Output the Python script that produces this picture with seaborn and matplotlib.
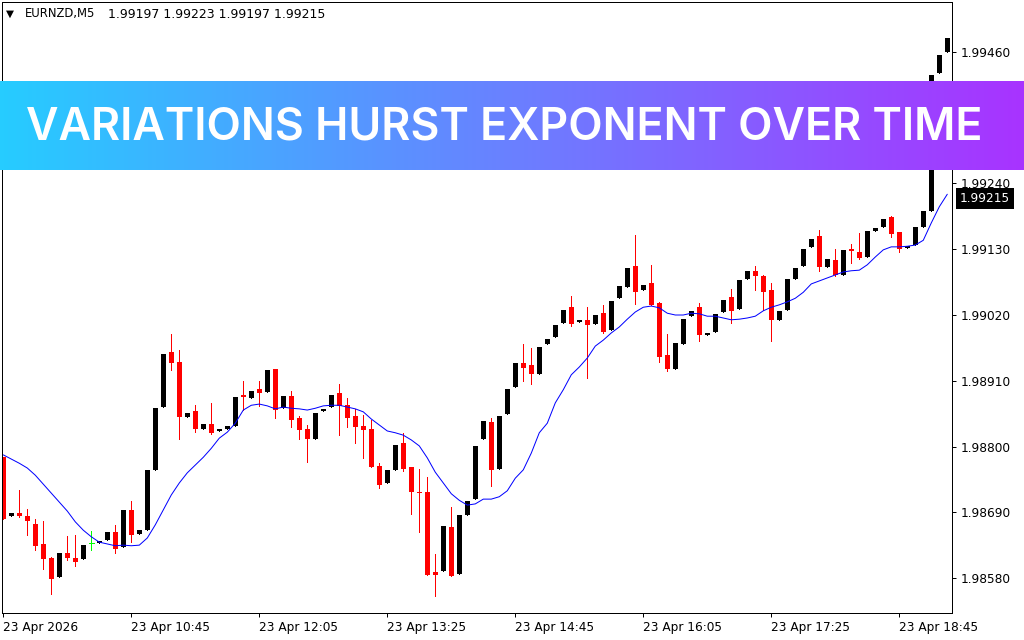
import numpy as np
import pandas as pd
import matplotlib
matplotlib.use("Agg")
import matplotlib.pyplot as plt
from matplotlib.colors import LinearSegmentedColormap
import seaborn as sns

# EURNZD M5 candles, prices in points above 1.98000
opens = [782,684,689,684,670,637,613,582,622,613,612,639,639,644,657,632,694,654,660,761,
         866,958,941,849,859,829,838,826,829,834,886,881,896,891,930,864,885,848,829,813,
         859,866,890,869,851,834,829,767,739,761,806,766,724,724,590,592,665,587,685,712,
         813,841,762,854,899,940,936,921,971,983,1007,1033,1008,1012,1005,1023,995,1048,1067,1102,
         1062,1074,1040,953,930,971,1018,1033,987,992,1025,1050,1030,1080,1094,1085,1062,1012,1028,1080,
         1102,1134,1152,1100,1112,1087,1130,1125,1117,1160,1167,1184,1159,1132,1137,1167,1194,1425,1460]
highs = [782,689,727,695,679,675,615,622,650,652,635,659,642,657,669,694,709,660,761,864,
         955,988,961,856,869,838,873,829,834,883,910,893,910,928,930,885,893,851,836,856,
         863,886,905,881,863,853,844,772,761,802,823,766,762,749,620,667,699,685,709,801,
         843,848,851,896,940,971,965,966,980,1003,1028,1052,1012,1033,1020,1037,1043,1069,1099,1154,
         1070,1104,1042,988,973,1013,1027,1040,990,1022,1045,1064,1079,1094,1102,1087,1074,1027,1080,1099,
         1130,1147,1162,1114,1130,1129,1139,1157,1160,1166,1181,1186,1159,1135,1167,1194,1421,1455,1483]
lows = [679,684,682,652,627,595,553,582,610,600,612,627,639,644,622,632,640,654,660,761,
        866,928,813,849,824,829,821,826,829,834,861,881,868,891,848,864,833,813,774,813,
        859,866,819,833,806,781,766,731,739,761,759,687,657,585,550,592,583,587,685,712,
        813,734,762,854,899,910,905,921,971,983,1007,1002,1008,915,1005,990,995,1048,1067,1038,
        1062,1037,941,926,930,971,1018,976,987,992,1025,1007,1030,1080,1062,1028,976,1012,1028,1080,
        1102,1134,1094,1100,1085,1087,1107,1114,1117,1160,1167,1151,1125,1132,1137,1167,1194,1425,1460]
closes = [679,689,684,675,634,612,578,622,613,607,635,639,642,657,629,694,652,660,761,864,
          955,940,849,856,829,838,823,829,834,883,883,893,890,928,861,885,844,828,813,856,
          863,886,868,848,833,828,766,736,761,802,762,724,722,585,585,667,583,685,709,801,
          843,761,851,896,940,931,921,966,980,1003,1028,1005,1012,1003,1020,992,1043,1069,1099,1058,
          1070,1037,950,930,973,1013,1027,987,990,1022,1045,1027,1079,1094,1085,1058,1012,1027,1080,1099,
          1130,1147,1100,1114,1087,1129,1127,1115,1160,1166,1181,1156,1130,1135,1167,1194,1421,1455,1483]
ma_line = [786,779,772,764,752,737,722,707,692,674,660,649,640,637,634,635,634,635,647,669,
           694,719,739,756,769,782,797,814,824,839,861,869,871,868,863,866,864,863,861,864,
           868,869,869,866,863,858,846,836,826,823,819,811,801,781,757,739,721,710,702,704,
           712,712,716,726,747,761,789,823,839,873,895,920,933,948,968,978,990,1000,1013,1025,
           1033,1035,1032,1023,1020,1020,1023,1022,1018,1018,1015,1012,1013,1015,1018,1027,1033,1037,1042,1048,
           1058,1072,1077,1082,1087,1092,1094,1095,1104,1117,1129,1134,1134,1135,1137,1145,1174,1201,1222]

# 1.99350 sits behind the banner in the original, so it is left out
price_ticks = [1.98580, 1.98690, 1.98800, 1.98910, 1.99020, 1.99130, 1.99240, 1.99460]
time_ticks = [0, 16, 32, 48, 64, 80, 96, 112]
time_labels = ["23 Apr 2026", "23 Apr 10:45", "23 Apr 12:05", "23 Apr 13:25",
               "23 Apr 14:45", "23 Apr 16:05", "23 Apr 17:25", "23 Apr 18:45"]
last_price = 1.99215
header_name = "EURNZD,M5"
header_ohlc = "1.99197 1.99223 1.99197 1.99215"
title = "VARIATIONS HURST EXPONENT OVER TIME"

BASE = 1.98
PX = 0.72  # one pixel at dpi 100
df = pd.DataFrame({"i": range(len(opens)), "open": opens, "high": highs,
                   "low": lows, "close": closes, "ma": ma_line})
for col in ["open", "high", "low", "close", "ma"]:
    df[col] = BASE + df[col] / 1e5
df["bottom"] = df[["open", "close"]].min(axis=1)
df["body"] = (df["open"] - df["close"]).abs()

UP, DOWN, FLAT = "#000000", "#ff0000", "#00ff00"
df["color"] = np.where(df["close"] > df["open"], UP, np.where(df["close"] < df["open"], DOWN, FLAT))

sns.set_theme(style="ticks")
plt.rcParams["font.family"] = ["DejaVu Sans"]

fig = plt.figure(figsize=(10.24, 6.4), dpi=100, facecolor="white")
ax = fig.add_axes([2 / 1024, 1 - 613 / 640, 950 / 1024, 611 / 640])

# wicks, then bodies
ax.vlines(df["i"], df["low"], df["high"], colors=df["color"], linewidth=PX, antialiased=False)
for color in [UP, DOWN]:
    sub = df[df["color"] == color]
    sns.barplot(data=sub, x="i", y="body", bottom=sub["bottom"].values, native_scale=True,
                color=color, saturation=1, width=0.625, linewidth=0, errorbar=None, ax=ax)
flat = df[df["color"] == FLAT]
ax.hlines(flat["open"], flat["i"] - 0.31, flat["i"] + 0.31, colors=FLAT, linewidth=PX, antialiased=False)

sns.lineplot(data=df, x="i", y="ma", color="#0000ff", linewidth=PX, ax=ax)

ax.set_xlim(-0.1625, 118.59)
ax.set_ylim(1.985215, 1.995436)
ax.set_xlabel("")
ax.set_ylabel("")
ax.yaxis.tick_right()
ax.set_yticks(price_ticks)
ax.set_yticklabels([f"{p:.5f}" for p in price_ticks])
ax.set_xticks(time_ticks)
ax.set_xticklabels(time_labels, ha="left")
ax.tick_params(axis="both", length=3, width=PX, color="black", labelsize=8.7, labelcolor="black")
ax.tick_params(axis="y", pad=3)
ax.tick_params(axis="x", pad=2.5)
for spine in ax.spines.values():
    spine.set_visible(True)
    spine.set_color("black")
    spine.set_linewidth(PX)

# last price tag on the scale
ax.annotate(f"{last_price:.5f}", xy=(1, last_price), xycoords=("axes fraction", "data"),
            xytext=(8, 0), textcoords="offset pixels", color="white", fontsize=8.7, va="center", ha="left",
            bbox=dict(boxstyle="square,pad=0.3", facecolor="black", edgecolor="none"),
            annotation_clip=False)

# chart header
fig.text(6 / 1024, 1 - 14 / 640, "\u25bc", fontsize=7.5, color="black", va="center")
fig.text(25 / 1024, 1 - 14 / 640, header_name, fontsize=8.4, color="black", va="center")
fig.text(108 / 1024, 1 - 14 / 640, header_ohlc, fontsize=9.0, color="black", va="center")

# gradient banner over the chart
banner = fig.add_axes([0, 1 - 170 / 640, 1, 89 / 640], zorder=5)
cmap = LinearSegmentedColormap.from_list("banner", ["#26ccff", "#6a80ff", "#a833ff"])
banner.imshow(np.linspace(0, 1, 512)[None, :], aspect="auto", cmap=cmap, extent=(0, 1024, 170, 81))
banner.axis("off")
banner.text(504, 127, title, color="white", fontsize=32.2, fontweight="semibold",
            family="Inter", ha="center", va="center")

fig.savefig("out.png", dpi=100)
